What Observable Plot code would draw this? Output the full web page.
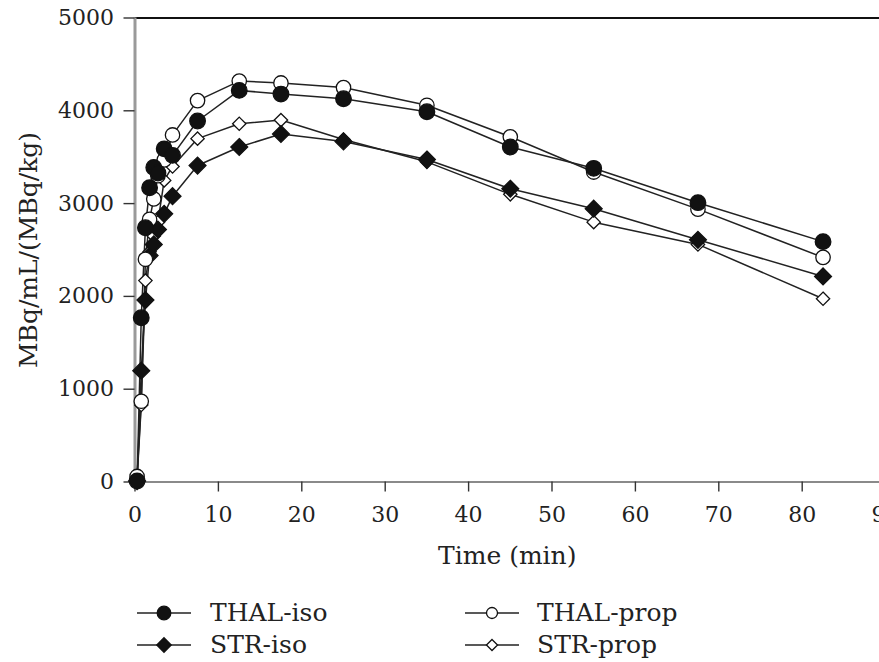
<!DOCTYPE html>
<html><head><meta charset="utf-8">
<script src="https://cdn.jsdelivr.net/npm/d3@7"></script>
<script src="https://cdn.jsdelivr.net/npm/@observablehq/plot@0.6"></script>
<style>
body{margin:0;background:#fff;overflow:hidden}
#chart svg{display:block}
#legend{position:relative;width:879px;height:77px;font-family:"DejaVu Serif";font-size:25px;color:#222}
#legend .sw{position:absolute}
#legend .lb{position:absolute;line-height:32px;white-space:nowrap}
</style></head><body>
<div id="chart"></div>
<div id="legend"></div>
<script>
// time points (min)
const times = [0.25, 0.75, 1.25, 1.75, 2.25, 2.75, 3.5, 4.5, 7.5, 12.5, 17.5, 25, 35, 45, 55, 67.5, 82.5];
// series values MBq/mL/(MBq/kg)
const thalIso  = [10, 1770, 2740, 3170, 3390, 3330, 3590, 3520, 3890, 4220, 4180, 4130, 3990, 3610, 3380, 3010, 2590];
const thalProp = [60,  870, 2400, 2830, 3050, 3300, 3470, 3740, 4110, 4320, 4300, 4250, 4060, 3720, 3340, 2940, 2420];
const strIso   = [10, 1200, 1960, 2440, 2560, 2720, 2890, 3080, 3410, 3610, 3750, 3670, 3475, 3160, 2945, 2610, 2215];
const strProp  = [30,  830, 2170, 2480, 2650, 2800, 3250, 3400, 3700, 3860, 3900, 3690, 3450, 3100, 2800, 2560, 1975];
const seriesNames = ["THAL-iso", "THAL-prop", "STR-iso", "STR-prop"];
const yTicks = [0, 1000, 2000, 3000, 4000, 5000];
const xTicks = [0, 10, 20, 30, 40, 50, 60, 70, 80, 90];
const xTitle = "Time (min)";
const yTitle = "MBq/mL/(MBq/kg)";

const seriesValues = [thalIso, thalProp, strIso, strProp];
const rows = [];
seriesNames.forEach((s, k) => times.forEach((t, i) => rows.push({series: s, time: t, value: seriesValues[k][i]})));

const look = {
  "THAL-iso":  {symbol: "circle",   fill: "#111", r: 7.8, stroke: "#111"},
  "THAL-prop": {symbol: "circle",   fill: "#fff", r: 7.2, stroke: "#111"},
  "STR-iso":   {symbol: "diamond2", fill: "#111", r: 7.6, stroke: "#111"},
  "STR-prop":  {symbol: "diamond2", fill: "#fff", r: 6,   stroke: "#111"}
};
const drawOrder = ["STR-prop", "STR-iso", "THAL-prop", "THAL-iso"];

const plot = Plot.plot({
  width: 879,
  height: 585,
  marginLeft: 134.5,
  marginRight: 0,
  marginTop: 17.5,
  marginBottom: 103.5,
  x: {domain: [0, 90], range: [134.5, 885.1]},
  y: {domain: [0, 5000], range: [481.5, 17.5]},
  style: {fontFamily: "DejaVu Serif", fontSize: "22px", color: "#222", background: "#fff", overflow: "hidden"},
  marks: [
    Plot.ruleY([5000], {stroke: "#111", strokeWidth: 1.8}),
    Plot.ruleY([0], {stroke: "#8a8a8a", strokeWidth: 2.2}),
    Plot.ruleX([0], {stroke: "#9a9a9a", strokeWidth: 3}),
    Plot.axisY(yTicks, {tickSize: 11, tickPadding: 10, tickFormat: d => String(d), stroke: "#333", strokeWidth: 1.4, label: null}),
    Plot.axisX(xTicks, {tickSize: 10, tickPadding: 14, tickFormat: d => String(d), stroke: "#333", strokeWidth: 1.4, label: null}),
    Plot.line(rows, {x: "time", y: "value", z: "series", stroke: "#222", strokeWidth: 1.5}),
    ...drawOrder.map(s => Plot.dot(rows.filter(d => d.series === s), {
      x: "time", y: "value", symbol: () => look[s].symbol, r: look[s].r,
      fill: look[s].fill, stroke: look[s].stroke, strokeWidth: 1.3
    })),
    Plot.text([yTitle], {frameAnchor: "left", textAnchor: "middle", lineAnchor: "middle", dx: -106, rotate: -90, fontSize: 25, fill: "#222"}),
    Plot.text([xTitle], {frameAnchor: "bottom", textAnchor: "middle", lineAnchor: "middle", dy: 73.5, fontSize: 25, fill: "#222"})
  ]
});
document.getElementById("chart").appendChild(plot);

// legend (HTML below the SVG)
const legend = d3.select("#legend");
const legendPos = {
  "THAL-iso":  {sx: 137, tx: 210, cy: 28},
  "THAL-prop": {sx: 465, tx: 537, cy: 28},
  "STR-iso":   {sx: 137, tx: 210, cy: 60},
  "STR-prop":  {sx: 465, tx: 537, cy: 60}
};
const legendR = {"THAL-iso": 6.8, "THAL-prop": 5.5, "STR-iso": 6.5, "STR-prop": 5};
seriesNames.forEach(s => {
  const p = legendPos[s];
  const sw = legend.append("svg").attr("class", "sw").attr("width", 54).attr("height", 20)
    .style("left", p.sx + "px").style("top", (p.cy - 10) + "px");
  sw.append("line").attr("x1", 0).attr("x2", 54).attr("y1", 10).attr("y2", 10).attr("stroke", "#222").attr("stroke-width", 1.4);
  const sym = look[s].symbol === "circle" ? d3.symbolCircle : d3.symbolDiamond2;
  const r = legendR[s];
  sw.append("path").attr("transform", "translate(27,10)")
    .attr("d", d3.symbol(sym, Math.PI * r * r)())
    .attr("fill", look[s].fill).attr("stroke", "#111").attr("stroke-width", 1.3);
  legend.append("div").attr("class", "lb").style("left", p.tx + "px").style("top", (p.cy - 16) + "px").text(s);
});
</script>
</body></html>
